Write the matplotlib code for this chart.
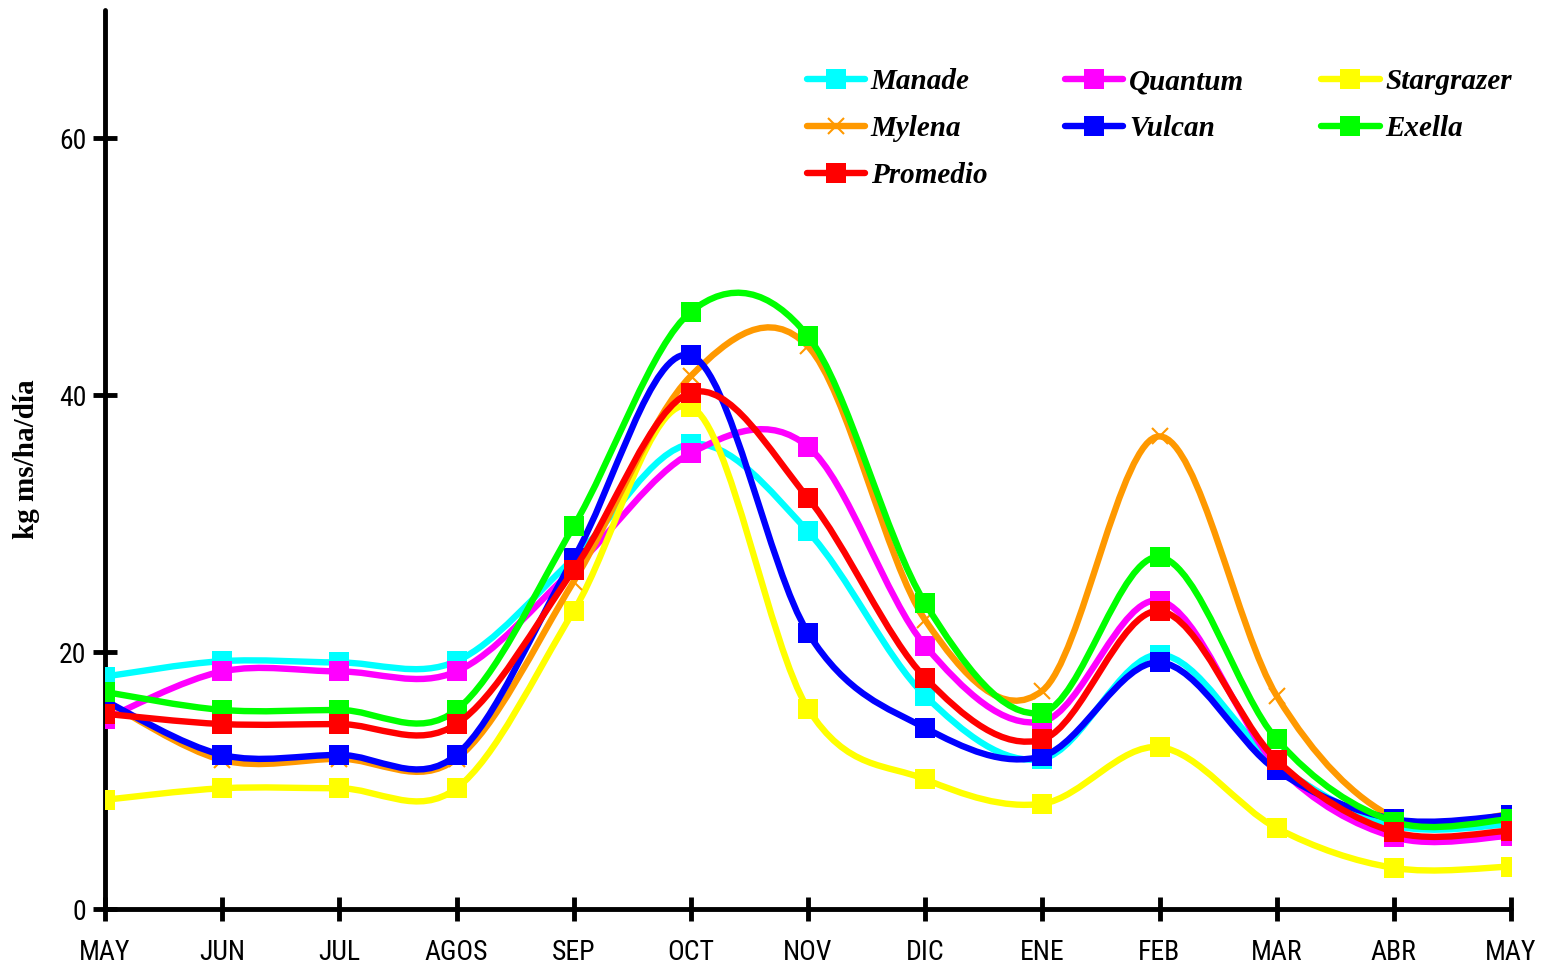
"""
Forage growth curves (kg ms/ha/dia) by month, smoothed lines like Excel.
"""
import matplotlib
matplotlib.use("Agg")
import matplotlib.pyplot as plt
from matplotlib.lines import Line2D
from matplotlib.path import Path
from matplotlib.patches import PathPatch
from matplotlib import font_manager

months = ["MAY", "JUN", "JUL", "AGOS", "SEP", "OCT", "NOV",
          "DIC", "ENE", "FEB", "MAR", "ABR", "MAY"]

manade = [18.1, 19.3, 19.2, 19.3, 27.3, 36.2, 29.4, 16.6, 11.7, 19.8, 11.3, 6.5, 6.6]
quantum = [14.8, 18.5, 18.5, 18.5, 26.5, 35.5, 36.0, 20.5, 14.6, 24.0, 11.2, 5.6, 5.7]
stargrazer = [8.5, 9.4, 9.4, 9.4, 23.2, 39.1, 15.6, 10.1, 8.2, 12.6, 6.3, 3.2, 3.3]
mylena = [16.2, 11.6, 11.7, 11.7, 25.5, 41.5, 43.8, 22.5, 17.0, 36.8, 16.6, 7.1, 7.4]
vulcan = [16.2, 12.0, 12.0, 12.0, 27.3, 43.1, 21.5, 14.1, 11.9, 19.2, 10.8, 7.0, 7.3]
exella = [16.9, 15.5, 15.5, 15.5, 29.8, 46.5, 44.6, 23.8, 15.3, 27.4, 13.2, 6.8, 7.0]
promedio = [15.2, 14.4, 14.4, 14.4, 26.4, 40.2, 32.0, 18.0, 13.2, 23.2, 11.6, 6.0, 6.1]

series = [
    ("Manade", manade, "#00FFFF", "s"),
    ("Quantum", quantum, "#FF00FF", "s"),
    ("Stargrazer", stargrazer, "#FFFF00", "s"),
    ("Mylena", mylena, "#FF9900", "x"),
    ("Vulcan", vulcan, "#0000FF", "s"),
    ("Exella", exella, "#00FF00", "s"),
    ("Promedio", promedio, "#FF0000", "s"),
]

# pick a narrow sans for tick labels if there is one
names = {f.name for f in font_manager.fontManager.ttflist}
narrow = [n for n in ("Liberation Sans Narrow", "Arial Narrow", "Roboto Condensed") if n in names]
if narrow:
    tick_font = font_manager.FontProperties(family=narrow[0], size=20)
else:
    tick_font = font_manager.FontProperties(family="DejaVu Sans", stretch="condensed", size=19)
serif = "Liberation Serif"


def smooth_path(xs, ys):
    # Bezier segments with Catmull-Rom style control points (Excel "smoothed line")
    n = len(xs)
    verts = [(xs[0], ys[0])]
    codes = [Path.MOVETO]
    for i in range(n - 1):
        i0 = max(i - 1, 0)
        i3 = min(i + 2, n - 1)
        c1 = (xs[i] + (xs[i + 1] - xs[i0]) / 6, ys[i] + (ys[i + 1] - ys[i0]) / 6)
        c2 = (xs[i + 1] - (xs[i3] - xs[i]) / 6, ys[i + 1] - (ys[i3] - ys[i]) / 6)
        verts += [c1, c2, (xs[i + 1], ys[i + 1])]
        codes += [Path.CURVE4] * 3
    return Path(verts, codes)


fig = plt.figure(figsize=(15.47, 9.67), dpi=100)
ax = fig.add_axes([105 / 1547, 58 / 967, 1406 / 1547, 899 / 967])

x = list(range(len(months)))
handles = {}
for k, (name, vals, color, mk) in enumerate(series):
    z = 3 + k
    patch = PathPatch(smooth_path(x, vals), facecolor="none", edgecolor=color,
                      lw=4.6, joinstyle="round", capstyle="round", zorder=z)
    ax.add_patch(patch)
    if mk == "s":
        ax.plot(x, vals, ls="none", marker="s", ms=14, mew=0, color=color, zorder=z)
        handles[name] = Line2D([], [], color=color, lw=4.6, marker="s", ms=14, mew=0,
                               solid_capstyle="round")
    else:
        ax.plot(x, vals, ls="none", marker="x", ms=11, mew=1.5, color=color, zorder=z)
        handles[name] = Line2D([], [], color=color, lw=4.6, marker="x", ms=11, mew=1.5,
                               solid_capstyle="round")

ax.set_xlim(0, 12)
ax.set_ylim(0, 70)
ax.set_xticks(x)
ax.set_xticklabels(months)
ax.set_yticks([0, 20, 40, 60])

for side in ("top", "right"):
    ax.spines[side].set_visible(False)
for side in ("left", "bottom"):
    ax.spines[side].set_linewidth(3.5)
    ax.spines[side].set_capstyle("round")

ax.tick_params(axis="both", direction="inout", length=17, width=3.5)
ax.tick_params(axis="x", pad=13)
ax.tick_params(axis="y", pad=5)
for lab in ax.get_xticklabels() + ax.get_yticklabels():
    lab.set_fontproperties(tick_font)

ax.set_ylabel("kg ms/ha/día", fontsize=21, fontweight="bold", family=serif)
ax.yaxis.set_label_coords(-0.046, 0.5)

# legend goes row by row, matplotlib fills columns first
order = ["Manade", "Mylena", "Promedio", "Quantum", "Vulcan", "Stargrazer", "Exella"]
leg = ax.legend([handles[n] for n in order], order, ncol=3, frameon=False,
                loc="upper left", bbox_to_anchor=(0.499, 0.935),
                borderaxespad=0, borderpad=0, handlelength=2.0, handletextpad=0.2,
                columnspacing=2.65, labelspacing=0.68,
                prop={"family": serif, "weight": "bold", "style": "italic", "size": 21})

fig.savefig("out.png", dpi=100)
